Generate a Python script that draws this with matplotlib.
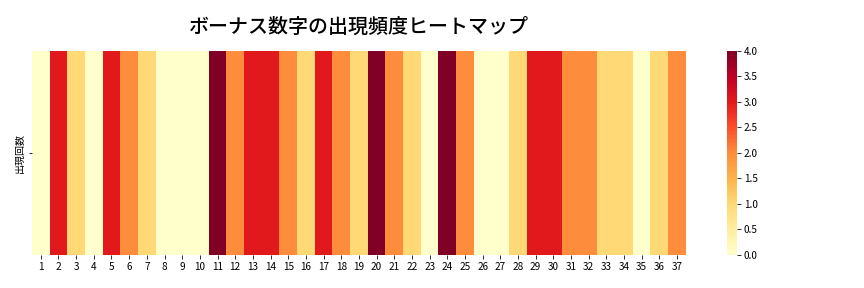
import numpy as np
import pandas as pd
import seaborn as sns
import matplotlib.pyplot as plt

plt.rcParams['font.family'] = ['Noto Sans CJK JP', 'DejaVu Sans']

numbers = list(range(1, 38))
counts = [0, 3, 1, 0, 3, 2, 1, 0, 0, 0,
          4, 2, 3, 3, 2, 1, 3, 2, 1, 4,
          2, 1, 0, 4, 2, 0, 0, 1, 3, 3,
          2, 2, 1, 1, 0, 1, 2]

df = pd.DataFrame([counts], columns=numbers, index=['出現回数'])

fig, ax = plt.subplots(figsize=(12, 4), dpi=72)
sns.heatmap(df, cmap='YlOrRd', vmin=0, vmax=4, ax=ax, cbar=True)
ax.set_title('ボーナス数字の出現頻度ヒートマップ', fontsize=20, fontweight='medium', pad=18)
ax.set_xlabel('')
ax.set_ylabel('')
ax.set_xticklabels(numbers, rotation=0)
ax.set_yticklabels(['出現回数'], rotation=90, va='center')
plt.subplots_adjust(left=0.037, right=0.983, top=0.823, bottom=0.115)
plt.savefig('out.png')
